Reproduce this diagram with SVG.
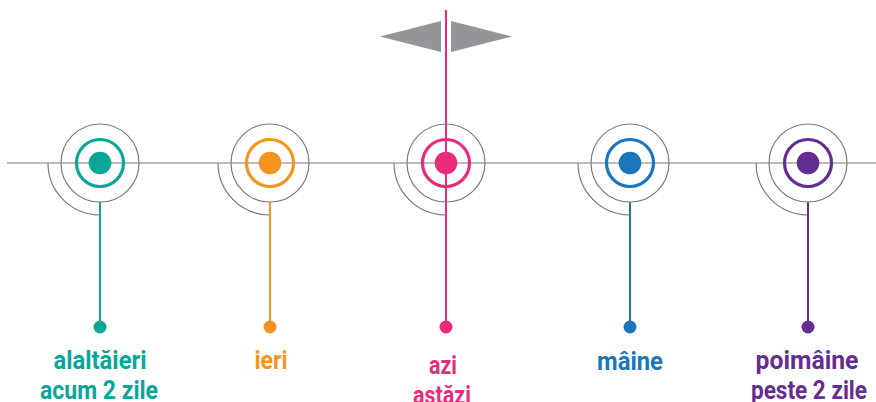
<svg xmlns="http://www.w3.org/2000/svg" width="876" height="402" viewBox="0 0 876 402">
<style>
.g{fill:none;stroke:#7a7a7a;stroke-width:1.2}
.ring{fill:none;stroke-width:3.2}
.lbl{font-family:"Roboto","Liberation Sans",sans-serif;font-weight:bold;font-size:25px;text-anchor:middle}
.stem{stroke-width:2}
</style>
<rect width="876" height="402" fill="#ffffff"/>
<g id="arrows">
<polygon points="380,36.5 441,21 441,52" fill="#939598"/>
<polygon points="451,21 451,52 512,36.5" fill="#939598"/>
</g>
<g id="axis">
<line x1="7" y1="163" x2="876" y2="163" stroke="#7a7a7a" stroke-width="1.2"/>
</g>
<g id="connectors">
<line class="stem" x1="100" y1="202" x2="100" y2="327" stroke="#0aa69a"/>
<line class="stem" x1="270" y1="202" x2="270" y2="327" stroke="#f7941d"/>
<line class="stem" x1="446" y1="10" x2="446" y2="327" stroke="#ec2a7b"/>
<line class="stem" x1="630" y1="202" x2="630" y2="327" stroke="#1b75bc"/>
<line class="stem" x1="808" y1="202" x2="808" y2="327" stroke="#662d91"/>
</g>
<g id="n1">
<circle class="g" cx="100" cy="163" r="39"/>
<path class="g" d="M48,163 A52,52 0 0 0 99,215"/>
<circle class="ring" cx="100" cy="163" r="23.5" stroke="#0aa69a"/>
<circle cx="100" cy="163" r="11.3" fill="#0aa69a"/>
<circle cx="100" cy="327" r="6.5" fill="#0aa69a"/>
<text class="lbl" x="100" y="369" fill="#0aa69a" textLength="93" lengthAdjust="spacingAndGlyphs">alaltăieri</text>
<text class="lbl" x="99" y="399" fill="#0aa69a" textLength="118" lengthAdjust="spacingAndGlyphs">acum 2 zile</text>
</g>
<g id="n2">
<circle class="g" cx="270" cy="163" r="39"/>
<path class="g" d="M218,163 A52,52 0 0 0 269,215"/>
<circle class="ring" cx="270" cy="163" r="23.5" stroke="#f7941d"/>
<circle cx="270" cy="163" r="11.3" fill="#f7941d"/>
<circle cx="270" cy="327" r="6.5" fill="#f7941d"/>
<text class="lbl" x="271" y="369" fill="#f7941d" textLength="33" lengthAdjust="spacingAndGlyphs">ieri</text>
</g>
<g id="n3">
<circle class="g" cx="446" cy="163" r="39"/>
<path class="g" d="M394,163 A52,52 0 0 0 445,215"/>
<circle class="ring" cx="446" cy="163" r="23.5" stroke="#ec2a7b"/>
<circle cx="446" cy="163" r="11.3" fill="#ec2a7b"/>
<circle cx="446" cy="327" r="6.5" fill="#ec2a7b"/>
<text class="lbl" x="443" y="374" fill="#ec2a7b" textLength="28" lengthAdjust="spacingAndGlyphs">azi</text>
<text class="lbl" x="442" y="404" fill="#ec2a7b" textLength="58" lengthAdjust="spacingAndGlyphs">astăzi</text>
</g>
<g id="n4">
<circle class="g" cx="630" cy="163" r="39"/>
<path class="g" d="M578,163 A52,52 0 0 0 629,215"/>
<circle class="ring" cx="630" cy="163" r="23.5" stroke="#1b75bc"/>
<circle cx="630" cy="163" r="11.3" fill="#1b75bc"/>
<circle cx="630" cy="327" r="6.5" fill="#1b75bc"/>
<text class="lbl" x="630" y="370" fill="#1b75bc" textLength="66" lengthAdjust="spacingAndGlyphs">mâine</text>
</g>
<g id="n5">
<circle class="g" cx="808" cy="163" r="39"/>
<path class="g" d="M756,163 A52,52 0 0 0 807,215"/>
<circle class="ring" cx="808" cy="163" r="23.5" stroke="#662d91"/>
<circle cx="808" cy="163" r="11.3" fill="#662d91"/>
<circle cx="808" cy="327" r="6.5" fill="#662d91"/>
<text class="lbl" x="807" y="369" fill="#662d91" textLength="103" lengthAdjust="spacingAndGlyphs">poimâine</text>
<text class="lbl" x="809" y="399" fill="#662d91" textLength="116" lengthAdjust="spacingAndGlyphs">peste 2 zile</text>
</g>
</svg>
